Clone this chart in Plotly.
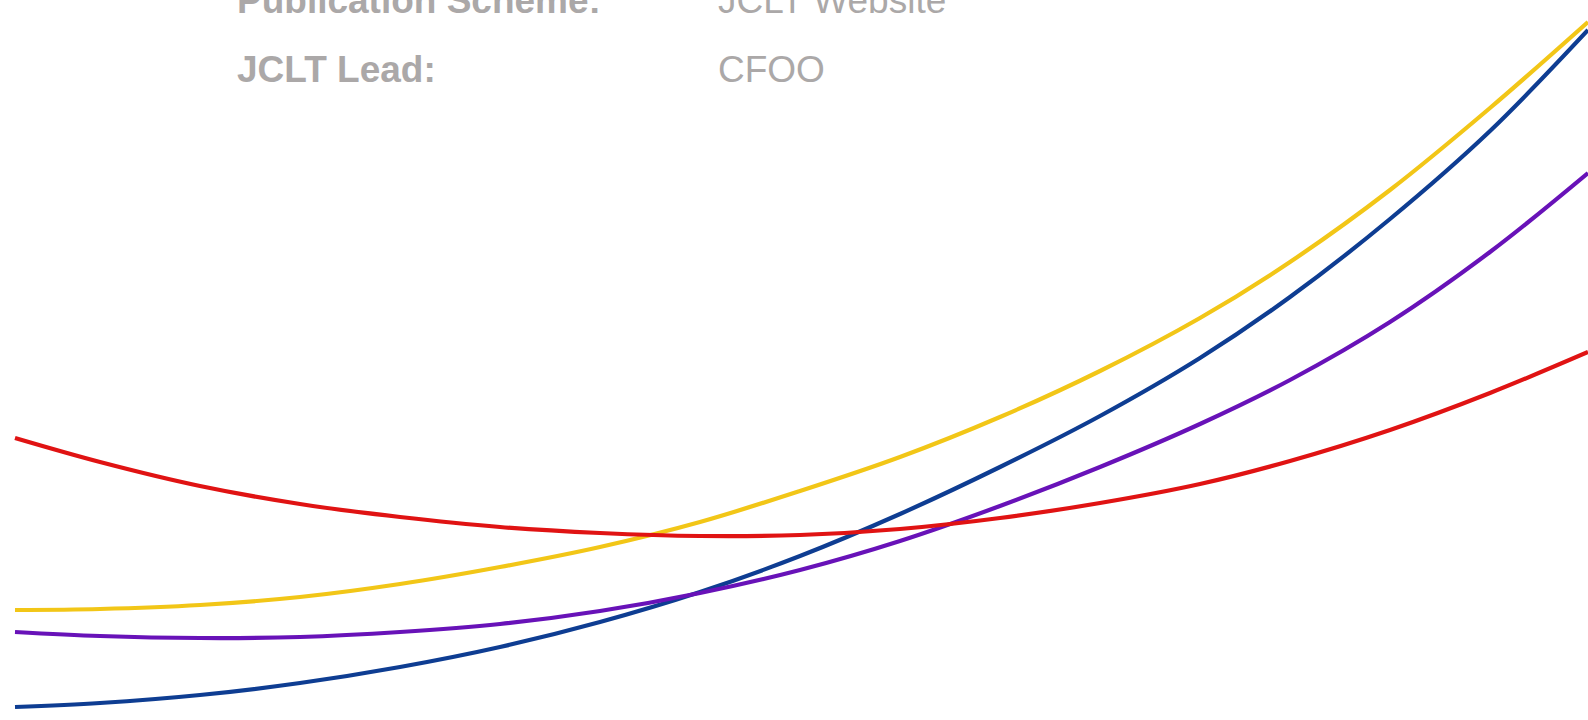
import plotly.graph_objects as go

xs_common = [15, 100, 200, 300, 400, 500, 600, 700, 800, 900, 1000, 1100, 1200, 1290, 1390, 1490, 1588]

yellow_y = [610, 609, 605, 597, 584, 567, 547, 522, 491, 457, 417, 371, 318, 262, 190, 108, 22]
blue_y = [707, 703, 695, 683, 667, 647, 622, 592, 556, 514, 467, 416, 358, 297, 219, 131, 30]
purple_y = [632, 636, 638, 637, 632, 624, 611, 593, 570, 541, 506, 467, 424, 380, 322, 252, 173]
red_y = [438, 462, 486, 504, 517, 527, 533, 536, 535, 529, 518, 503, 484, 461, 430, 393, 352]

labels = ["Publication Scheme:", "JCLT Lead:"]
values = ["JCLT Website", "CFOO"]

series = [
    (yellow_y, "#F2C617"),
    (blue_y, "#0E3D92"),
    (purple_y, "#6812B8"),
    (red_y, "#E01313"),
]

fig = go.Figure()
for ys, col in series:
    fig.add_trace(go.Scatter(x=xs_common, y=ys, mode="lines",
                             line=dict(color=col, width=4.2, shape="spline", smoothing=1.0),
                             hoverinfo="skip", showlegend=False))

text_y_px = [0, 69]
for lab, val, ty in zip(labels, values, text_y_px):
    yp = 1 - ty / 720.0
    fig.add_annotation(x=235 / 1588.0, y=yp, xref="paper", yref="paper", text="<b>%s</b>" % lab,
                       showarrow=False, xanchor="left", yanchor="middle",
                       font=dict(family="Liberation Sans, Arial", size=37, color="#ABA8A8"))
    fig.add_annotation(x=716 / 1588.0, y=yp, xref="paper", yref="paper", text=val,
                       showarrow=False, xanchor="left", yanchor="middle",
                       font=dict(family="Liberation Sans, Arial", size=37, color="#ABA8A8"))

fig.update_layout(
    width=1588, height=720,
    margin=dict(l=0, r=0, t=0, b=0),
    paper_bgcolor="white", plot_bgcolor="white",
    xaxis=dict(range=[0, 1588], visible=False, fixedrange=True),
    yaxis=dict(range=[720, 0], visible=False, fixedrange=True),
)

fig.write_html("out.html",
               config={"displayModeBar": False},
               post_script="document.body.style.margin='0';document.body.style.overflow='hidden';")
